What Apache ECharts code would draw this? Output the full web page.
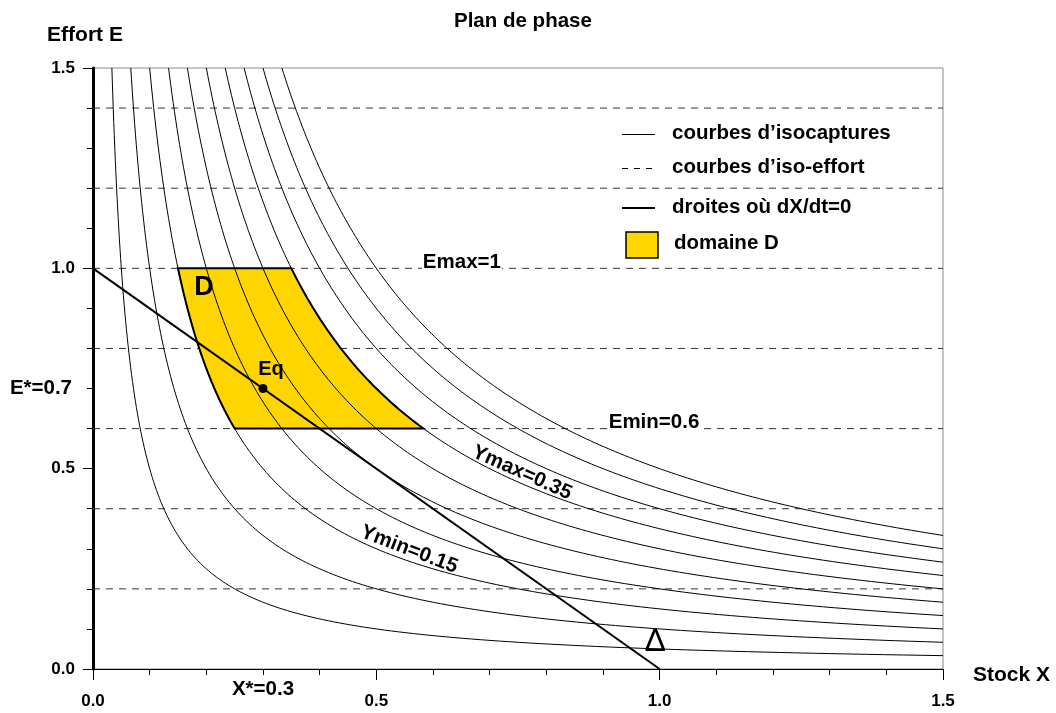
<!DOCTYPE html>
<html>
<head>
<meta charset="utf-8">
<script src="https://cdn.jsdelivr.net/npm/echarts@6/dist/echarts.min.js"></script>
<style>
  html, body { margin: 0; padding: 0; background: #fff; }
  #chart { width: 1056px; height: 713px; }
</style>
</head>
<body>
<div id="chart"></div>
<script>
// levels
const isoCaptures = [0.05, 0.10, 0.15, 0.20, 0.25, 0.30, 0.35, 0.40, 0.45, 0.50]; // E*X = Y
const isoEfforts = [0.2, 0.4, 0.6, 0.8, 1.0, 1.2, 1.4];
const xLabels = [0, 0.3, 0.5, 1.0, 1.5];
const yLabels = [0, 0.5, 0.7, 1.0, 1.5];
const eqPoint = [0.3, 0.7];
const deltaLine = [[0, 1], [1, 0]];
const domainY = [0.15, 0.35];   // Ymin, Ymax
const domainE = [0.6, 1.0];     // Emin, Emax
const xMax = 1.5, yMax = 1.5;

const FONT = 'Liberation Sans, Arial, sans-serif';

// hyperbola E = c / X between two efforts
function hyper(c, eHigh, eLow, n) {
  const pts = [];
  for (let i = 0; i <= n; i++) {
    const e = eHigh * Math.pow(eLow / eHigh, i / n);
    pts.push([c / e, e]);
  }
  return pts;
}

const curveSeries = isoCaptures.map(c => ({
  type: 'line',
  name: 'courbes d\u2019isocaptures',
  data: hyper(c, yMax, c / xMax, 160),
  showSymbol: false,
  symbol: 'none',
  lineStyle: { color: '#000', width: 1 },
  silent: true,
  z: 4
}));

const effortSeries = isoEfforts.map(e => ({
  type: 'line',
  name: 'courbes d\u2019iso-effort',
  data: [[0, e], [xMax, e]],
  symbol: 'none',
  lineStyle: { color: '#333', width: 1, type: [7, 6] },
  silent: true,
  z: 1
}));

// domain D polygon
const leftEdge = hyper(domainY[0], domainE[1], domainE[0], 40);
const rightEdge = hyper(domainY[1], domainE[0], domainE[1], 40);
const domainPts = leftEdge.concat(rightEdge);

const notes = [
  { value: [0.651, 1.016], label: { formatter: 'Emax=1', backgroundColor: '#fff', padding: [0, 1] } },
  { value: [0.990, 0.616], label: { formatter: 'Emin=0.6', backgroundColor: '#fff', padding: [0, 1] } },
  { value: [0.757, 0.490], label: { formatter: 'Ymax=0.35', rotate: -24 } },
  { value: [0.558, 0.298], label: { formatter: 'Ymin=0.15', rotate: -21 } },
  { value: [0.196, 0.953], label: { formatter: 'D', fontSize: 27 } },
  { value: [0.992, 0.068], label: { formatter: '\u0394', fontSize: 32, fontWeight: 'normal' } }
];

const chart = echarts.init(document.getElementById('chart'));
chart.setOption({
  animation: false,
  textStyle: { fontFamily: FONT },
  title: {
    text: 'Plan de phase',
    left: 449,
    top: 6,
    textStyle: { fontSize: 20.5, fontWeight: 'bold', color: '#000', fontFamily: FONT }
  },
  grid: {
    left: 93, right: 113, top: 68, bottom: 44,
    show: true, borderColor: '#888', borderWidth: 1
  },
  xAxis: {
    type: 'value', min: 0, max: xMax, interval: 0.5,
    name: 'Stock X', nameLocation: 'end', nameGap: 30,
    nameTextStyle: { fontSize: 21, fontWeight: 'bold', color: '#000', verticalAlign: 'top', lineHeight: 12 },
    axisLine: { show: true, lineStyle: { color: '#000', width: 1 } },
    axisTick: { show: true, length: 11, lineStyle: { color: '#000' } },
    minorTick: { show: true, splitNumber: 5, length: 6, lineStyle: { color: '#000' } },
    splitLine: { show: false },
    axisLabel: {
      customValues: xLabels,
      margin: 10,
      fontSize: 17, fontWeight: 'bold', color: '#000',
      formatter: v => Math.abs(v - 0.3) < 1e-6 ? '{s|X*=0.3}' : '{n|' + v.toFixed(1) + '}',
      rich: {
        s: { fontSize: 20.5, fontWeight: 'bold', color: '#000' },
        n: { fontSize: 17, fontWeight: 'bold', color: '#000', padding: [14, 0, 0, 0] }
      }
    }
  },
  yAxis: {
    type: 'value', min: 0, max: yMax, interval: 0.5,
    name: 'Effort E', nameLocation: 'end', nameGap: 22,
    nameTextStyle: { fontSize: 21, fontWeight: 'bold', color: '#000', padding: [0, 16, 0, 0] },
    axisLine: { show: true, lineStyle: { color: '#000', width: 3 } },
    axisTick: { show: true, length: 10, lineStyle: { color: '#000' } },
    minorTick: { show: true, splitNumber: 5, length: 6, lineStyle: { color: '#000' } },
    splitLine: { show: false },
    axisLabel: {
      customValues: yLabels,
      margin: 18,
      fontSize: 17, fontWeight: 'bold', color: '#000',
      formatter: v => Math.abs(v - 0.7) < 1e-6 ? '{s|E*=0.7}' : v.toFixed(1),
      rich: { s: { fontSize: 20.5, fontWeight: 'bold', color: '#000', padding: [0, 3, 0, 0] } }
    }
  },
  series: [
    ...effortSeries,
    {
      type: 'custom',
      name: 'domaine D',
      data: [[0, 0]],
      clip: false,
      z: 2,
      renderItem: (params, api) => ({
        type: 'polygon',
        shape: { points: domainPts.map(p => api.coord(p)) },
        style: { fill: '#FFD500', stroke: '#000', lineWidth: 2 }
      })
    },
    ...curveSeries,
    {
      type: 'line',
      name: 'droites o\u00f9 dX/dt=0',
      data: deltaLine,
      symbol: 'none',
      lineStyle: { color: '#000', width: 2 },
      z: 5
    },
    {
      type: 'scatter',
      name: 'Eq',
      data: [eqPoint],
      symbolSize: 9,
      itemStyle: { color: '#000', opacity: 1 },
      label: {
        show: true, formatter: 'Eq', position: 'top', offset: [8, 0],
        fontSize: 20, fontWeight: 'bold', color: '#000'
      },
      z: 6
    },
    {
      type: 'scatter',
      name: 'notes',
      data: notes,
      symbolSize: 0,
      itemStyle: { opacity: 1 },
      label: {
        show: true, position: 'inside',
        fontSize: 20.5, fontWeight: 'bold', color: '#000'
      },
      silent: true,
      z: 7
    }
  ],
  graphic: [
    // legend
    { type: 'line', shape: { x1: 622, y1: 134.5, x2: 655, y2: 134.5 }, style: { stroke: '#000', lineWidth: 1 } },
    { type: 'text', left: 672, top: 123, style: { text: 'courbes d\u2019isocaptures', font: 'bold 20.5px ' + FONT, fill: '#000' } },
    { type: 'line', shape: { x1: 622, y1: 168.5, x2: 655, y2: 168.5 }, style: { stroke: '#000', lineWidth: 1, lineDash: [6, 6] } },
    { type: 'text', left: 672, top: 157, style: { text: 'courbes d\u2019iso-effort', font: 'bold 20.5px ' + FONT, fill: '#000' } },
    { type: 'line', shape: { x1: 622, y1: 208, x2: 655, y2: 208 }, style: { stroke: '#000', lineWidth: 2 } },
    { type: 'text', left: 672, top: 197, style: { text: 'droites o\u00f9 dX/dt=0', font: 'bold 20.5px ' + FONT, fill: '#000' } },
    { type: 'rect', shape: { x: 626, y: 232, width: 32, height: 26 }, style: { fill: '#FFD500', stroke: '#000', lineWidth: 1.5 } },
    { type: 'text', left: 674, top: 233, style: { text: 'domaine D', font: 'bold 20.5px ' + FONT, fill: '#000' } }
  ]
});
</script>
</body>
</html>
